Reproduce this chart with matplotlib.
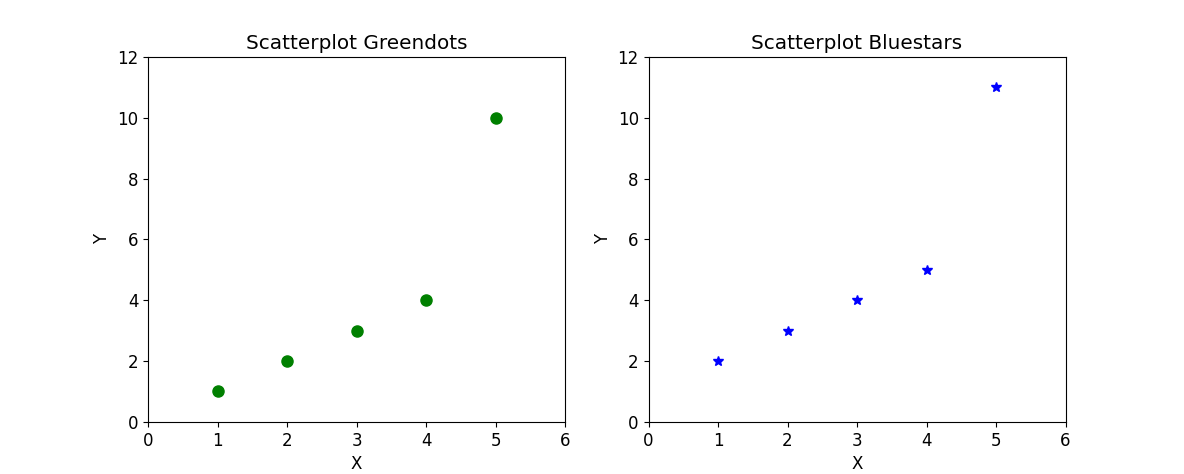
import matplotlib as mpl
import matplotlib.pyplot as plt

x = [1, 2, 3, 4, 5]
y_green = [1, 2, 3, 4, 10]
y_blue = [2, 3, 4, 5, 11]

mpl.rcParams.update({'font.size': 12})
dpi = 100
fig = plt.figure(dpi=dpi, figsize=(1184/dpi, 474/dpi))

ax1 = fig.add_subplot(1, 2, 1)
ax1.plot(x, y_green, "go", markersize=8)
ax1.axis([0, 6, 0, 12])
ax1.set_title("Scatterplot Greendots")
ax1.set_xlabel("X")
ax1.set_ylabel("Y")

ax2 = fig.add_subplot(1, 2, 2)
ax2.plot(x, y_blue, "b*", markersize=7)
ax2.axis([0, 6, 0, 12])
ax2.set_title("Scatterplot Bluestars")
ax2.set_xlabel("X")
ax2.set_ylabel("Y")

fig.savefig("out.png")
